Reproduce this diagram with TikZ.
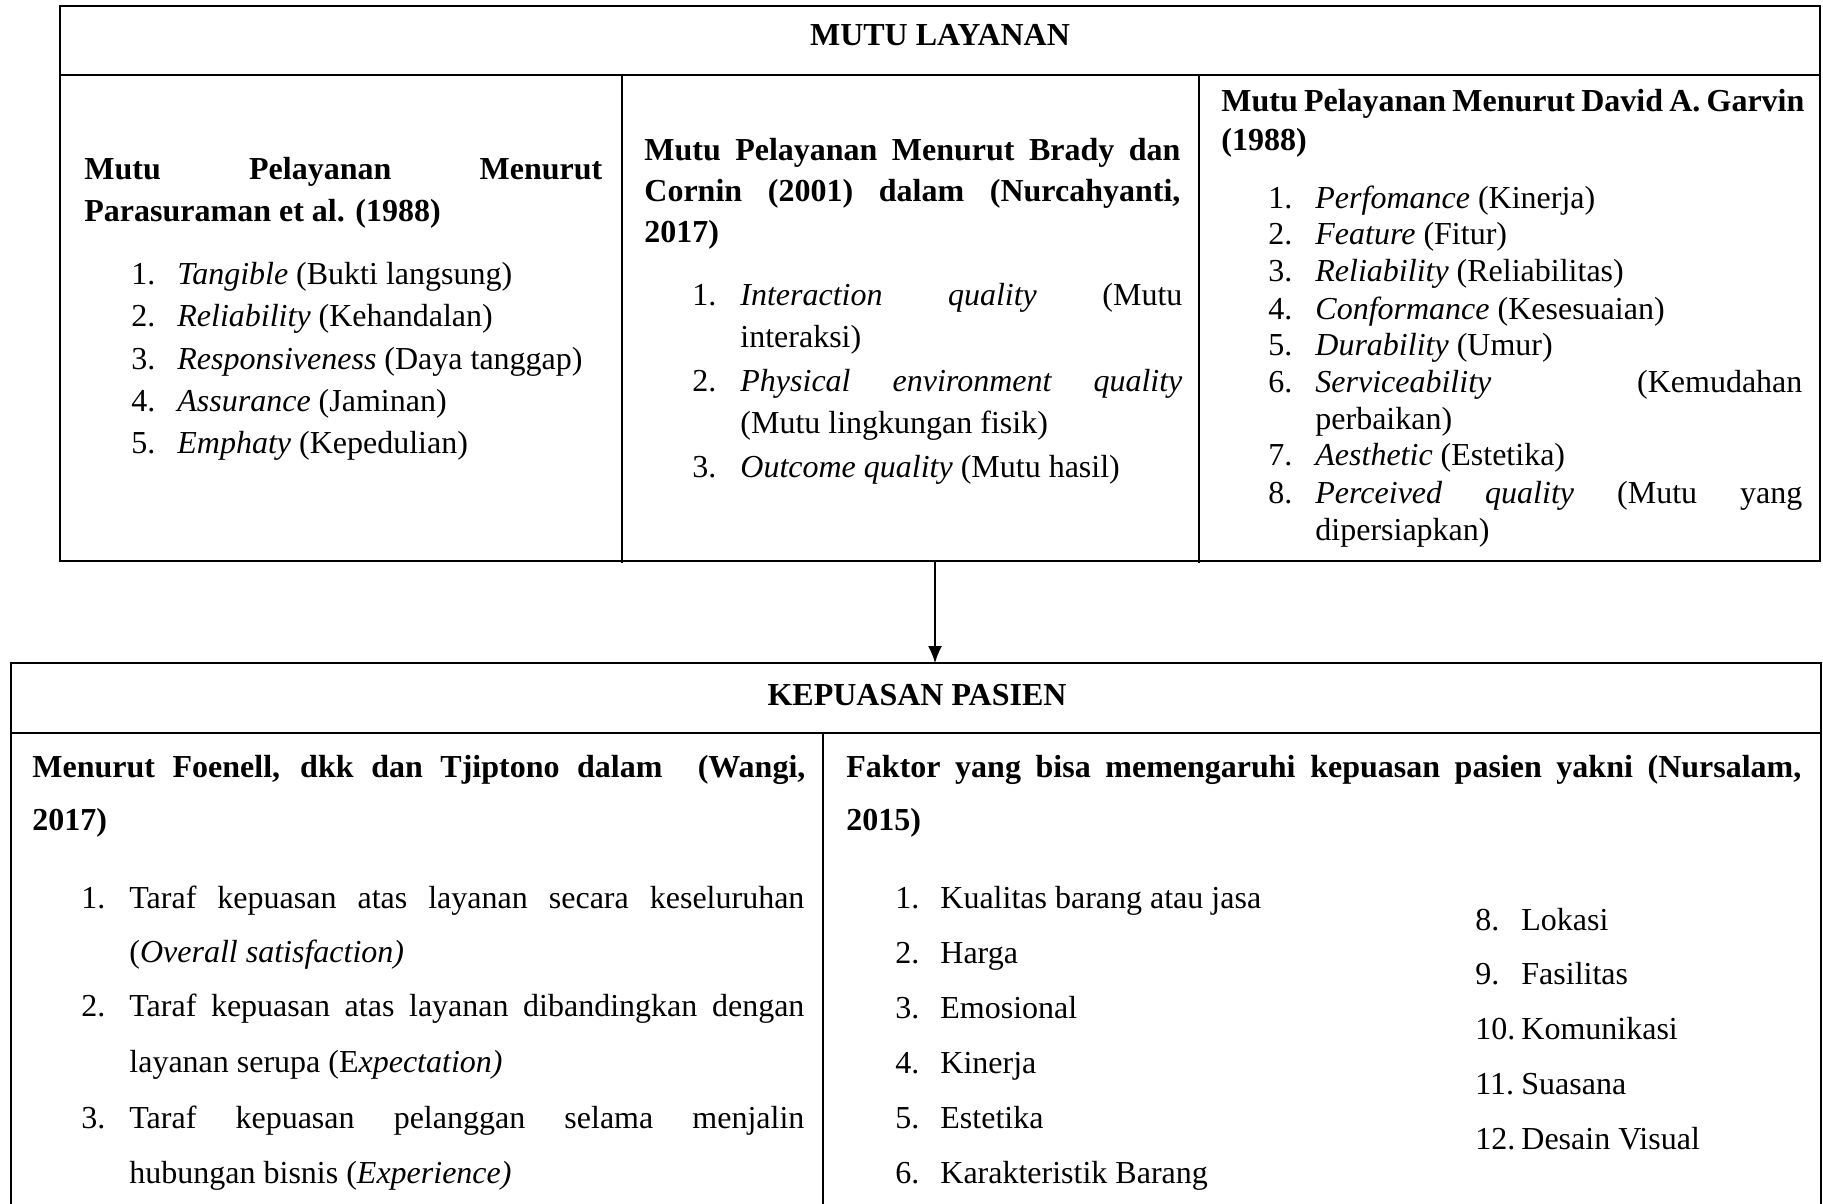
\documentclass[tikz,border=0pt]{standalone}
\usepackage{fontspec}
\setmainfont{Liberation Serif}
\usetikzlibrary{arrows.meta}

\begin{document}
\begin{tikzpicture}[x=0.5pt,y=-0.5pt,
  txt/.style={anchor=base west,inner sep=0pt},
  box/.style={line width=1.4pt},
  font=\fontsize{16}{19}\selectfont]
\useasboundingbox (0,0) rectangle (1823,1203);

% mutu layanan
\draw[box] (60,6) rectangle (1820,561);
\draw[box] (60,75) -- (1820,75);
\draw[box] (622,75) -- (622,563);
\draw[box] (1199,75) -- (1199,563);
\node[anchor=base,inner sep=0pt] (mutu) at (940,46) {\textbf{MUTU LAYANAN}};

\node[txt] (pa0) at (84,180) {\textbf{\makebox[259pt][s]{Mutu Pelayanan Menurut}}};
\node[txt] (pa00) at (84,222) {\textbf{Parasuraman et al. (1988)}};
\foreach \t [count=\i] in {\textit{Tangible} (Bukti langsung), \textit{Reliability} (Kehandalan),
  \textit{Responsiveness} (Daya tanggap), \textit{Assurance} (Jaminan), \textit{Emphaty} (Kepedulian)}
  \node[txt] (pa\i) at (131,{285+42*(\i-1)}) {\makebox[23pt][l]{\i.}\t};

\node[txt] (br0) at (644,161) {\textbf{\makebox[268pt][s]{Mutu Pelayanan Menurut Brady dan}}};
\node[txt] (br00) at (644,202) {\textbf{\makebox[268pt][s]{Cornin (2001) dalam (Nurcahyanti,}}};
\node[txt] (br000) at (644,243) {\textbf{2017)}};
\node[txt] (br1) at (692,306) {\makebox[24pt][l]{1.}\makebox[221pt][s]{\textit{Interaction quality} (Mutu}};
\node[txt] (br1b) at (740,348) {interaksi)};
\node[txt] (br2) at (692,391) {\makebox[24pt][l]{2.}\makebox[221pt][s]{\textit{Physical environment quality}}};
\node[txt] (br2b) at (740,433) {(Mutu lingkungan fisik)};
\node[txt] (br3) at (692,477) {\makebox[24pt][l]{3.}\textit{Outcome quality} (Mutu hasil)};

\node[txt] (ga0) at (1221,112) {\textbf{\makebox[291.5pt][s]{Mutu Pelayanan Menurut David A. Garvin}}};
\node[txt] (ga00) at (1221,151) {\textbf{(1988)}};
\node[txt] (ga1) at (1268,209) {\makebox[23.5pt][l]{1.}\textit{Perfomance} (Kinerja)};
\node[txt] (ga2) at (1268,245) {\makebox[23.5pt][l]{2.}\textit{Feature} (Fitur)};
\node[txt] (ga3) at (1268,282) {\makebox[23.5pt][l]{3.}\textit{Reliability} (Reliabilitas)};
\node[txt] (ga4) at (1268,320) {\makebox[23.5pt][l]{4.}\textit{Conformance} (Kesesuaian)};
\node[txt] (ga5) at (1268,355) {\makebox[23.5pt][l]{5.}\textit{Durability} (Umur)};
\node[txt] (ga6) at (1268,392) {\makebox[23.5pt][l]{6.}\makebox[243.5pt][s]{\textit{Serviceability} (Kemudahan}};
\node[txt] (ga6b) at (1315,429) {perbaikan)};
\node[txt] (ga7) at (1268,465) {\makebox[23.5pt][l]{7.}\textit{Aesthetic} (Estetika)};
\node[txt] (ga8) at (1268,503) {\makebox[23.5pt][l]{8.}\makebox[243.5pt][s]{\textit{Perceived quality} (Mutu yang}};
\node[txt] (ga8b) at (1315,540) {dipersiapkan)};

% arrow
\coordinate (mutuout) at (935,562);
\coordinate (pasienin) at (935,663);
\draw[-{Latex[length=8.5pt,width=7pt]},line width=0.7pt] (mutuout) -- (pasienin);

% kepuasan pasien
\draw[box] (11,1210) -- (11,663) -- (1821,663) -- (1821,1210);
\draw[box] (11,733) -- (1821,733);
\draw[box] (823,733) -- (823,1210);
\node[anchor=base,inner sep=0pt] (pasien) at (917,705) {\textbf{KEPUASAN PASIEN}};

\node[txt] (fo0) at (32,777) {\textbf{\makebox[386.5pt][s]{Menurut Foenell, dkk dan Tjiptono dalam\ \ (Wangi,}}};
\node[txt] (fo00) at (32,830) {\textbf{2017)}};
\node[txt] (fo1) at (81,908) {\makebox[24pt][l]{1.}\makebox[337.5pt][s]{Taraf kepuasan atas layanan secara keseluruhan}};
\node[txt] (fo1b) at (129,962) {(\textit{Overall satisfaction)}};
\node[txt] (fo2) at (81,1016) {\makebox[24pt][l]{2.}\makebox[337.5pt][s]{Taraf kepuasan atas layanan dibandingkan dengan}};
\node[txt] (fo2b) at (129,1072) {layanan serupa (E\textit{xpectation)}};
\node[txt] (fo3) at (81,1128) {\makebox[24pt][l]{3.}\makebox[337.5pt][s]{Taraf kepuasan pelanggan selama menjalin}};
\node[txt] (fo3b) at (129,1183) {hubungan bisnis (\textit{Experience)}};

\node[txt] (nu0) at (846,777) {\textbf{\makebox[477.5pt][s]{Faktor yang bisa memengaruhi kepuasan pasien yakni (Nursalam,}}};
\node[txt] (nu00) at (846,830) {\textbf{2015)}};
\foreach \t [count=\i] in {Kualitas barang atau jasa, Harga, Emosional, Kinerja, Estetika, Karakteristik Barang}
  \node[txt] (nu\i) at (895,{908+55*(\i-1)}) {\makebox[22.5pt][l]{\i.}\t};
\foreach \t [count=\i from 8] in {Lokasi, Fasilitas, Komunikasi, Suasana, Desain Visual}
  \node[txt] (nu\i) at (1475,{930+54.8*(\i-8)}) {\makebox[23pt][l]{\i.}\t};

\end{tikzpicture}
\end{document}
